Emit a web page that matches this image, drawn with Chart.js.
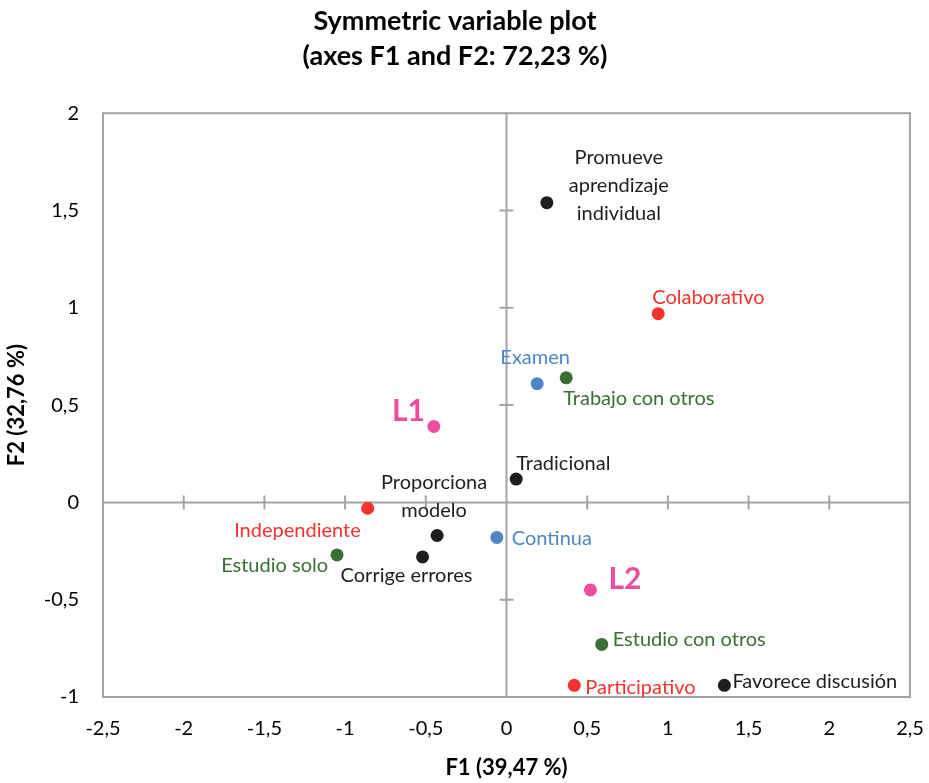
<!DOCTYPE html>
<html>
<head>
<meta charset="utf-8">
<script src="https://cdn.jsdelivr.net/npm/chart.js@4.4.1/dist/chart.umd.min.js"></script>
<style>
  html, body { margin: 0; padding: 0; background: #fff; }
  #wrap { width: 929px; height: 783px; }
</style>
</head>
<body>
<div id="wrap"><canvas id="plot"></canvas></div>
<script>
// variables and their coordinates on F1 / F2
const varNames = [
    "Promueve\naprendizaje\nindividual", "Tradicional", "Proporciona\nmodelo", "Corrige errores", "Favorece discusión",
    "Colaborativo", "Independiente", "Participativo",
    "Examen", "Continua",
    "Trabajo con otros", "Estudio solo", "Estudio con otros",
    "L1", "L2"
];
const f1 = [0.25, 0.06, -0.43, -0.52, 1.35, 0.94, -0.86, 0.42, 0.19, -0.06, 0.37, -1.05, 0.59, -0.45, 0.52];
const f2 = [1.54, 0.12, -0.17, -0.28, -0.94, 0.97, -0.03, -0.94, 0.61, -0.18, 0.64, -0.27, -0.73, 0.39, -0.45];
const varGroup = [0, 0, 0, 0, 0, 1, 1, 1, 2, 2, 3, 3, 3, 4, 4];

const groupNames = ["Acciones", "Aprendizaje", "Evaluación", "Estudio", "Suplementarias"];
const groupColors = ["#1e1e1e", "#f5322d", "#4f86c6", "#3a6f34", "#ee4c9e"];

const tickStep = 0.5;
const xRange = [-2.5, 2.5];
const yRange = [-1, 2];

// label placement relative to each point (pixels), same order as varNames
const labelStyle = [
    { dx: 72, dy: -45, align: "center" },
    { dx: 0, dy: -16, align: "left" },
    { dx: -3, dy: -53, align: "center" },
    { dx: -16, dy: 19, align: "center" },
    { dx: 8, dy: -4, align: "left" },
    { dx: -6, dy: -16, align: "left" },
    { dx: -7, dy: 22, align: "right" },
    { dx: 11, dy: 2, align: "left" },
    { dx: -2, dy: -26, align: "center" },
    { dx: 15, dy: 1, align: "left" },
    { dx: -3, dy: 21, align: "left" },
    { dx: -9, dy: 11, align: "right" },
    { dx: 11, dy: -5, align: "left" },
    { dx: -9, dy: -15, align: "right", big: true },
    { dx: 18, dy: -11, align: "left", big: true }
];

const FONT = "Lato, 'Open Sans', sans-serif";
const AXIS_GRAY = "#a3a3a3";

function fmt(v) {
    return String(Math.round(v * 100) / 100).replace(".", ",");
}

const datasets = groupNames.map((g, gi) => ({
    label: g,
    data: f1.map((x, i) => ({ x: x, y: f2[i], name: varNames[i], idx: i }))
        .filter(p => varGroup[p.idx] === gi),
    backgroundColor: groupColors[gi],
    borderWidth: 0,
    pointRadius: 6.5,
}));

// box, zero axes with small ticks, and point labels
const frameAndLabels = {
    id: "frameAndLabels",
    beforeDatasetsDraw(chart) {
        const c = chart.ctx;
        const a = chart.chartArea;
        const xs = chart.scales.x, ys = chart.scales.y;
        const x0 = xs.getPixelForValue(0), y0 = ys.getPixelForValue(0);
        c.save();
        c.strokeStyle = AXIS_GRAY;
        c.lineWidth = 2;
        c.strokeRect(a.left, a.top, a.right - a.left, a.bottom - a.top);
        c.beginPath();
        c.moveTo(a.left, y0); c.lineTo(a.right, y0);
        c.moveTo(x0, a.top); c.lineTo(x0, a.bottom);
        for (let v = xRange[0] + tickStep; v < xRange[1] - 1e-9; v += tickStep) {
            const px = xs.getPixelForValue(v);
            c.moveTo(px, y0 - 7); c.lineTo(px, y0 + 7);
        }
        for (let v = yRange[0] + tickStep; v < yRange[1] - 1e-9; v += tickStep) {
            const py = ys.getPixelForValue(v);
            c.moveTo(x0 - 7, py); c.lineTo(x0 + 7, py);
        }
        c.stroke();
        c.restore();
    },
    afterDatasetsDraw(chart) {
        const c = chart.ctx;
        c.save();
        c.textBaseline = "middle";
        chart.data.datasets.forEach((ds, di) => {
            const meta = chart.getDatasetMeta(di);
            meta.data.forEach((el, j) => {
                const p = ds.data[j];
                const st = labelStyle[p.idx];
                c.fillStyle = groupColors[varGroup[p.idx]];
                c.font = st.big ? "bold 30px " + FONT : "20px " + FONT;
                c.textAlign = st.align;
                const lines = p.name.split("\n");
                lines.forEach((ln, k) => {
                    c.fillText(ln, el.x + st.dx, el.y + st.dy + k * 28);
                });
            });
        });
        c.restore();
    }
};

new Chart(document.getElementById("plot"), {
    type: "scatter",
    data: { datasets: datasets },
    options: {
        responsive: true,
        maintainAspectRatio: false,
        animation: false,
        layout: { padding: { top: 0, right: 19, bottom: 0, left: 0 } },
        plugins: {
            legend: { display: false },
            tooltip: { enabled: false },
            title: {
                display: true,
                text: ["Symmetric variable plot", "(axes F1 and F2: 72,23 %)"],
                color: "#000",
                font: { family: FONT, size: 27, weight: "bold", lineHeight: 1.3 },
                padding: { top: 4, bottom: 39 }
            }
        },
        scales: {
            x: {
                type: "linear",
                min: xRange[0], max: xRange[1],
                grid: { display: false },
                border: { display: false },
                ticks: {
                    stepSize: tickStep,
                    color: "#000",
                    padding: 12,
                    font: { family: FONT, size: 20 },
                    callback: v => fmt(v)
                },
                title: {
                    display: true,
                    text: "F1 (39,47 %)",
                    color: "#000",
                    font: { family: FONT, size: 22, weight: "bold" },
                    padding: { top: 2, bottom: 2 }
                },
                afterFit: s => { s.height = 86; s.paddingRight = 0; s.paddingLeft = 0; }
            },
            y: {
                type: "linear",
                min: yRange[0], max: yRange[1],
                grid: { display: false },
                border: { display: false },
                ticks: {
                    stepSize: tickStep,
                    color: "#000",
                    padding: 16,
                    font: { family: FONT, size: 20 },
                    callback: v => fmt(v)
                },
                title: {
                    display: true,
                    text: "F2 (32,76 %)",
                    color: "#000",
                    font: { family: FONT, size: 22, weight: "bold" },
                    padding: { top: 4, bottom: 4 }
                },
                afterFit: s => { s.width = 103; s.paddingTop = 0; s.paddingBottom = 0; }
            }
        }
    },
    plugins: [frameAndLabels]
});
</script>
</body>
</html>
